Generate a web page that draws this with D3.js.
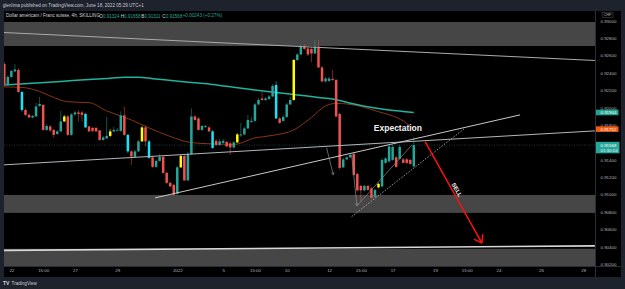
<!DOCTYPE html>
<html><head><meta charset="utf-8">
<script src="https://cdn.jsdelivr.net/npm/d3@7"></script>
<style>html,body{margin:0;padding:0;background:#1e222d;overflow:hidden}svg{display:block}</style>
</head><body><svg id="c" width="625" height="289"></svg>
<script>
// ---------- DATA ----------
const opens=[0.92502,0.92261,0.92353,0.92416,0.92433,0.92180,0.91973,0.91916,0.91887,0.91898,
0.92019,0.92031,0.91743,0.91783,0.91743,0.91697,0.91726,0.91841,0.91898,0.91686,
0.91921,0.91944,0.91944,0.91927,0.91783,0.91766,0.91766,0.91737,0.91628,0.91645,
0.91674,0.91726,0.91737,0.91732,0.91910,0.91686,0.91496,0.91433,0.91496,0.91611,
0.91772,0.91611,0.91427,0.91318,0.91387,0.91433,0.91249,0.91134,0.91111,0.91007,
0.91312,0.91444,0.91162,0.91467,0.91898,0.91875,0.91743,0.91778,0.91772,0.91726,
0.91617,0.91571,0.91594,0.91605,0.91588,0.91542,0.91599,0.91680,0.91691,0.91760,
0.91835,0.91847,0.92036,0.92105,0.92088,0.92100,0.92128,0.92261,0.91875,0.91847,
0.91893,0.92036,0.92088,0.92548,0.92611,0.92703,0.92680,0.92675,0.92623,0.92703,
0.92462,0.92301,0.92307,0.92330,0.92318,0.91927,0.91312,0.91404,0.91427,0.91467,
0.91237,0.91099,0.91047,0.91099,0.91070,0.90973,0.91082,0.91093,0.91364,0.91381,
0.91398,0.91427,0.91410,0.91404,0.91404,0.91398,0.91324];
const highs=[0.92525,0.92376,0.92433,0.92502,0.92456,0.92192,0.91996,0.91939,0.91916,0.92054,
0.92123,0.92042,0.91812,0.91801,0.91755,0.91743,0.91962,0.91916,0.91916,0.91939,
0.91962,0.91973,0.91962,0.91939,0.91789,0.91778,0.91778,0.91743,0.91674,0.91893,
0.91755,0.91778,0.91766,0.91956,0.92013,0.91697,0.91513,0.91513,0.91628,0.91789,
0.91789,0.91628,0.91444,0.91398,0.91467,0.91444,0.91260,0.91145,0.91122,0.91329,
0.91456,0.91456,0.91490,0.91990,0.91916,0.91893,0.91801,0.91801,0.91789,0.91743,
0.91640,0.91640,0.91640,0.91617,0.91605,0.91617,0.91709,0.91824,0.91778,0.91916,
0.91893,0.92054,0.92111,0.92180,0.92123,0.92146,0.92272,0.92301,0.91893,0.91916,
0.92054,0.92123,0.92560,0.92629,0.92721,0.92732,0.92698,0.92698,0.92778,0.92778,
0.92479,0.92353,0.92353,0.92433,0.92330,0.91939,0.91421,0.91444,0.91467,0.91479,
0.91249,0.91111,0.91111,0.91111,0.91088,0.91065,0.91134,0.91415,0.91433,0.91571,
0.91571,0.91444,0.91571,0.91421,0.91421,0.91410,0.91658];
const lows=[0.92238,0.92249,0.92341,0.92410,0.92169,0.91950,0.91904,0.91881,0.91875,0.91893,
0.92008,0.91732,0.91732,0.91720,0.91651,0.91686,0.91720,0.91835,0.91674,0.91674,
0.91916,0.91841,0.91841,0.91766,0.91720,0.91720,0.91720,0.91617,0.91617,0.91640,
0.91663,0.91720,0.91732,0.91720,0.91674,0.91479,0.91341,0.91421,0.91490,0.91605,
0.91553,0.91410,0.91306,0.91306,0.91375,0.91237,0.91122,0.91082,0.90984,0.90996,
0.91306,0.91157,0.91157,0.91456,0.91847,0.91732,0.91732,0.91766,0.91720,0.91525,
0.91559,0.91559,0.91582,0.91548,0.91456,0.91525,0.91594,0.91663,0.91680,0.91755,
0.91824,0.91835,0.92031,0.92077,0.92077,0.92088,0.92123,0.91870,0.91812,0.91835,
0.91881,0.92031,0.92077,0.92537,0.92606,0.92663,0.92594,0.92525,0.92617,0.92456,
0.92289,0.92289,0.92295,0.92307,0.91887,0.91283,0.91306,0.91398,0.91421,0.91214,
0.91036,0.90921,0.91036,0.91042,0.90950,0.90961,0.91070,0.91082,0.91352,0.91369,
0.91387,0.91306,0.91398,0.91358,0.91352,0.91341,0.91311];
const closes=[0.92261,0.92353,0.92422,0.92439,0.92180,0.91973,0.91916,0.91887,0.91904,0.92013,
0.92042,0.91743,0.91789,0.91737,0.91686,0.91726,0.91841,0.91898,0.91686,0.91921,
0.91944,0.91927,0.91916,0.91772,0.91726,0.91732,0.91726,0.91628,0.91657,0.91674,
0.91726,0.91743,0.91743,0.91910,0.91686,0.91496,0.91438,0.91496,0.91611,0.91772,
0.91611,0.91421,0.91318,0.91387,0.91433,0.91249,0.91134,0.91093,0.90996,0.91312,
0.91444,0.91162,0.91467,0.91898,0.91858,0.91743,0.91789,0.91789,0.91726,0.91536,
0.91571,0.91611,0.91617,0.91553,0.91542,0.91599,0.91691,0.91691,0.91760,0.91858,
0.91847,0.92036,0.92088,0.92088,0.92105,0.92128,0.92249,0.91875,0.91824,0.91893,
0.92036,0.92088,0.92548,0.92611,0.92703,0.92675,0.92611,0.92623,0.92703,0.92462,
0.92301,0.92335,0.92335,0.92318,0.91898,0.91306,0.91404,0.91427,0.91456,0.91226,
0.91047,0.91047,0.91099,0.91053,0.90961,0.91053,0.91122,0.91398,0.91415,0.91553,
0.91548,0.91318,0.91548,0.91364,0.91364,0.91352,0.91568];
const cyanBars=[5,23,35,41,59,77];
const yellowBars=[17,30,39,50,66,82,106];

// moving averages: [bar index, value]
const maSlow=[[0,0.92261],[8,0.92280],[16,0.92301],[24,0.92324],[30,0.92338],[34,0.92350],[38,0.92349],
[42,0.92333],[48,0.92309],[53,0.92288],[59,0.92266],[65,0.92234],[71,0.92203],[77,0.92174],[83,0.92146],
[89,0.92117],[93,0.92100],[97,0.92062],[101,0.92025],[105,0.91996],[109,0.91973],[113,0.91956],[116,0.91944]];
const maFast=[[0,0.92238],[5,0.92232],[10,0.92186],[13,0.92134],[18,0.92067],[24,0.92057],[29,0.91962],
[36,0.91858],[41,0.91766],[47,0.91668],[53,0.91597],[59,0.91582],[65,0.91576],[71,0.91651],[76,0.91680],
[82,0.91743],[87,0.91887],[91,0.92019],[94,0.92048],[97,0.92042],[101,0.92013],[106,0.91953],[110,0.91904],
[113,0.91847],[116,0.91752]];

// drawings: [bar index, price]
const zoneTop=[0.92985,0.92709];
const zoneMid=[0.90995,0.90788];
const zoneLow=[0.90375,0.90050];
const lineTop=[[-0.1,0.92864],[167.3,0.92542]];
const lineChannel=[[-0.1,0.91341],[167.3,0.91732]];
const lineRising=[[42.7,0.90961],[146.1,0.91916]];
const lineBottom=[[-0.1,0.90357],[167.3,0.90409]];
const lineDotted=[[98.4,0.90746],[130.5,0.91763]];
const pathUp=[[99.9,0.90869],[115.5,0.91571]];
const arrowA=[[91.3,0.91536],[93.2,0.91226]];
const arrowB=[[98.4,0.91456],[99.9,0.90869]];
const sellArrow=[[119.2,0.91608],[135.3,0.90440]];
const expectationPos=[111.5,0.91766];
const sellPos=[128.2,0.91053];

const priceTicks=[0.930,0.928,0.926,0.924,0.922,0.920,0.918,0.916,0.914,0.912,0.910,0.908,0.906,0.904,0.902];
const timeLabels=["22","15:00","27","29","2022","5","15:00","10","12","15:00","17","19","15:00","24","26","28"];
const timeIdx=[2,11,20,32,49,62,71,80,92,101,110,122,131,140,152,164];

// ---------- CHART ----------
const FONT='"Liberation Sans", Arial, sans-serif';
const svg=d3.select('#c');
const x=d3.scaleLinear().domain([0,116]).range([4.3,413.8]);
const y=d3.scaleLinear().domain([0.902,0.930]).range([264,20.7]);
const TEAL='#26a69a', RED='#ef5350';

svg.append('rect').attr('width',625).attr('height',289).attr('fill','#1e222d');
svg.append('rect').attr('x',4).attr('y',11).attr('width',617).attr('height',266).attr('fill','#000');
svg.append('defs').append('clipPath').attr('id','pc').append('rect').attr('x',4).attr('y',11).attr('width',591).attr('height',255);
const g=svg.append('g').attr('clip-path','url(#pc)');

// zones
[zoneTop,zoneMid,zoneLow].forEach(z=>{
  g.append('rect').attr('x',4).attr('width',591).attr('y',y(z[0])).attr('height',y(z[1])-y(z[0])).attr('fill','#464646');
});

// last price line
g.append('line').attr('x1',4).attr('x2',595).attr('y1',y(closes[closes.length-1])).attr('y2',y(closes[closes.length-1]))
 .attr('stroke','#1d4a45').attr('stroke-width',0.8).attr('stroke-dasharray','1,1.5');

function seg(pts,stroke,w,dash){
  const s=g.append('line').attr('x1',x(pts[0][0])).attr('y1',y(pts[0][1])).attr('x2',x(pts[1][0])).attr('y2',y(pts[1][1]))
   .attr('stroke',stroke).attr('stroke-width',w);
  if(dash) s.attr('stroke-dasharray',dash);
  return s;
}
function head(pts,stroke,w,len,ang){
  const x1=x(pts[0][0]),y1=y(pts[0][1]),x2=x(pts[1][0]),y2=y(pts[1][1]);
  const a=Math.atan2(y2-y1,x2-x1);
  [a+Math.PI-ang,a+Math.PI+ang].forEach(b=>{
    g.append('line').attr('x1',x2).attr('y1',y2).attr('x2',x2+len*Math.cos(b)).attr('y2',y2+len*Math.sin(b))
     .attr('stroke',stroke).attr('stroke-width',w);
  });
}

// moving averages
const ln=d3.line().x(d=>x(d[0])).y(d=>y(d[1])).curve(d3.curveMonotoneX);
g.append('path').attr('d',ln(maFast)).attr('fill','none').attr('stroke','#8b3512').attr('stroke-width',1);
g.append('path').attr('d',ln(maSlow)).attr('fill','none').attr('stroke','#20b39d').attr('stroke-width',1.5);

// candles
const idx=d3.range(opens.length);
const col=i=>cyanBars.includes(i)?'#18e4f5':yellowBars.includes(i)?'#ffff00':(closes[i]>=opens[i]?TEAL:RED);
g.selectAll('line.w').data(idx).join('line').attr('class','w')
 .attr('x1',i=>x(i)).attr('x2',i=>x(i)).attr('y1',i=>y(highs[i])).attr('y2',i=>y(lows[i]))
 .attr('stroke',col).attr('stroke-opacity',0.55).attr('stroke-width',0.9);
g.selectAll('rect.b').data(idx).join('rect').attr('class','b')
 .attr('x',i=>x(i)-1.25).attr('width',2.5)
 .attr('y',i=>y(Math.max(opens[i],closes[i])))
 .attr('height',i=>Math.max(0.8,Math.abs(y(opens[i])-y(closes[i]))))
 .attr('fill',col);

// drawings
seg(lineTop,'#a9abb0',1);
seg(lineChannel,'#b4b6bb',1);
seg(lineRising,'#c8c8c8',1);
seg(lineBottom,'#d8d8d8',1.6);
seg(lineDotted,'#bdbdbd',0.8,'1.5,1.5');
seg(pathUp,'#8c8c8c',0.7);
seg(arrowA,'#8c8c8c',0.7); head(arrowA,'#8c8c8c',0.7,3,0.5);
seg(arrowB,'#8c8c8c',0.7); head(arrowB,'#8c8c8c',0.7,3,0.5);
seg(sellArrow,'#ff1010',1.5); head(sellArrow,'#ff1010',1.5,9,0.6);

g.append('text').attr('x',x(expectationPos[0])).attr('y',y(expectationPos[1])).attr('text-anchor','middle')
 .attr('dominant-baseline','central').attr('font-family',FONT).attr('font-weight','bold').attr('font-size',8.5)
 .attr('fill','#f0f0f0').text('Expectation');
{
  const a=Math.atan2(y(sellArrow[1][1])-y(sellArrow[0][1]),x(sellArrow[1][0])-x(sellArrow[0][0]))*180/Math.PI;
  g.append('text').attr('transform',`translate(${x(sellPos[0])},${y(sellPos[1])}) rotate(${a})`).attr('text-anchor','middle')
   .attr('dominant-baseline','central').attr('font-family',FONT).attr('font-weight','bold').attr('font-size',6)
   .attr('fill','#f0f0f0').text('SELL');
}

// separators
svg.append('line').attr('x1',595.5).attr('x2',595.5).attr('y1',11).attr('y2',277).attr('stroke','#2a2e39').attr('stroke-width',1);
svg.append('line').attr('x1',4).attr('x2',621).attr('y1',266.5).attr('y2',266.5).attr('stroke','#2a2e39').attr('stroke-width',1);

// badges positions (for hiding covered tick labels, as TradingView does)
const badgeVals=[maSlow[maSlow.length-1][1],maFast[maFast.length-1][1],closes[closes.length-1]];
const covered=t=>{
  const ty=y(t);
  const lastY=y(closes[closes.length-1]);
  if(ty>lastY-5.8 && ty<lastY+10.5) return true;
  return badgeVals.slice(0,2).some(v=>Math.abs(y(v)-ty)<4);
};

// price axis
const pa=svg.append('g').attr('transform','translate(597.5,0)')
 .call(d3.axisRight(y).tickValues(priceTicks.filter(t=>!covered(t))).tickSize(0).tickPadding(3).tickFormat(d3.format('.5f')));
pa.select('.domain').remove();
pa.selectAll('text').attr('font-family',FONT).attr('font-size',4.4).attr('fill','#b2b5be');

// time axis
const ta=svg.append('g').attr('transform','translate(0,266)')
 .call(d3.axisBottom(x).tickValues(timeIdx).tickSize(0).tickPadding(3).tickFormat((d,i)=>timeLabels[i]));
ta.select('.domain').remove();
ta.selectAll('text').attr('font-family',FONT).attr('font-size',4.4).attr('fill','#b2b5be');

// badges
const f5=d3.format('.5f');
function badge(v,fill,h){
  const cy=y(v);
  svg.append('rect').attr('x',596).attr('y',cy-h/2).attr('width',22.5).attr('height',h).attr('fill',fill);
  svg.append('text').attr('x',600.5).attr('y',cy).attr('dominant-baseline','central').attr('font-family',FONT)
   .attr('font-size',4.4).attr('fill','#fff').text(f5(v));
}
badge(badgeVals[0],'#1fa58e',5.6);
badge(badgeVals[1],'#f2580f',5.6);
{
  const v=badgeVals[2], cy=y(v);
  svg.append('rect').attr('x',596).attr('y',cy-3.3).attr('width',23.5).attr('height',11.5).attr('fill','#26a69a');
  svg.append('text').attr('x',600.5).attr('y',cy).attr('dominant-baseline','central').attr('font-family',FONT)
   .attr('font-size',4.4).attr('fill','#fff').text(f5(v));
  svg.append('text').attr('x',600.5).attr('y',cy+5.4).attr('dominant-baseline','central').attr('font-family',FONT)
   .attr('font-size',4.4).attr('fill','#e8f5f3').text('01:30:04');
}
// currency label
svg.append('rect').attr('x',602).attr('y',12.6).attr('width',11).attr('height',5).attr('fill','none').attr('stroke','#50535e').attr('stroke-width',0.5);
svg.append('text').attr('x',607.5).attr('y',15.2).attr('text-anchor','middle').attr('dominant-baseline','central')
 .attr('font-family',FONT).attr('font-size',3.8).attr('fill','#b2b5be').text('CHF');

// header
svg.append('text').attr('x',2.7).attr('y',5.3).attr('dominant-baseline','central').attr('font-family',FONT)
 .attr('font-size',4.6).attr('fill','#c9ccd4').text('glenlima published on TradingView.com, June 18, 2022 05:29 UTC+1');
const hy=15.5;
svg.append('text').attr('x',6).attr('y',hy).attr('dominant-baseline','central').attr('font-family',FONT)
 .attr('font-size',4.6).attr('fill','#d1d4dc').text('Dollar américain / Franc suisse, 4h, SKILLING');
const legend=[['O',opens[116],99.3],['H',highs[116],120.7],['B',lows[116],141.3],['C',closes[116],162.3]];
legend.forEach(([k,v,px])=>{
  const t=svg.append('text').attr('x',px).attr('y',hy).attr('dominant-baseline','central').attr('font-family',FONT).attr('font-size',4.6);
  t.append('tspan').attr('fill','#d1d4dc').text(k);
  t.append('tspan').attr('fill','#26a69a').text(f5(v));
});
svg.append('text').attr('x',182.7).attr('y',hy).attr('dominant-baseline','central').attr('font-family',FONT)
 .attr('font-size',4.6).attr('fill','#26a69a').text('+0.00243 (+0.27%)');

// footer logo
svg.append('text').attr('x',3).attr('y',283).attr('dominant-baseline','central').attr('font-family',FONT)
 .attr('font-size',5).attr('font-weight','bold').attr('fill','#d1d4dc').text('TV');
svg.append('text').attr('x',11.5).attr('y',283).attr('dominant-baseline','central').attr('font-family',FONT)
 .attr('font-size',4.6).attr('fill','#c9ccd4').text('TradingView');
</script></body></html>
